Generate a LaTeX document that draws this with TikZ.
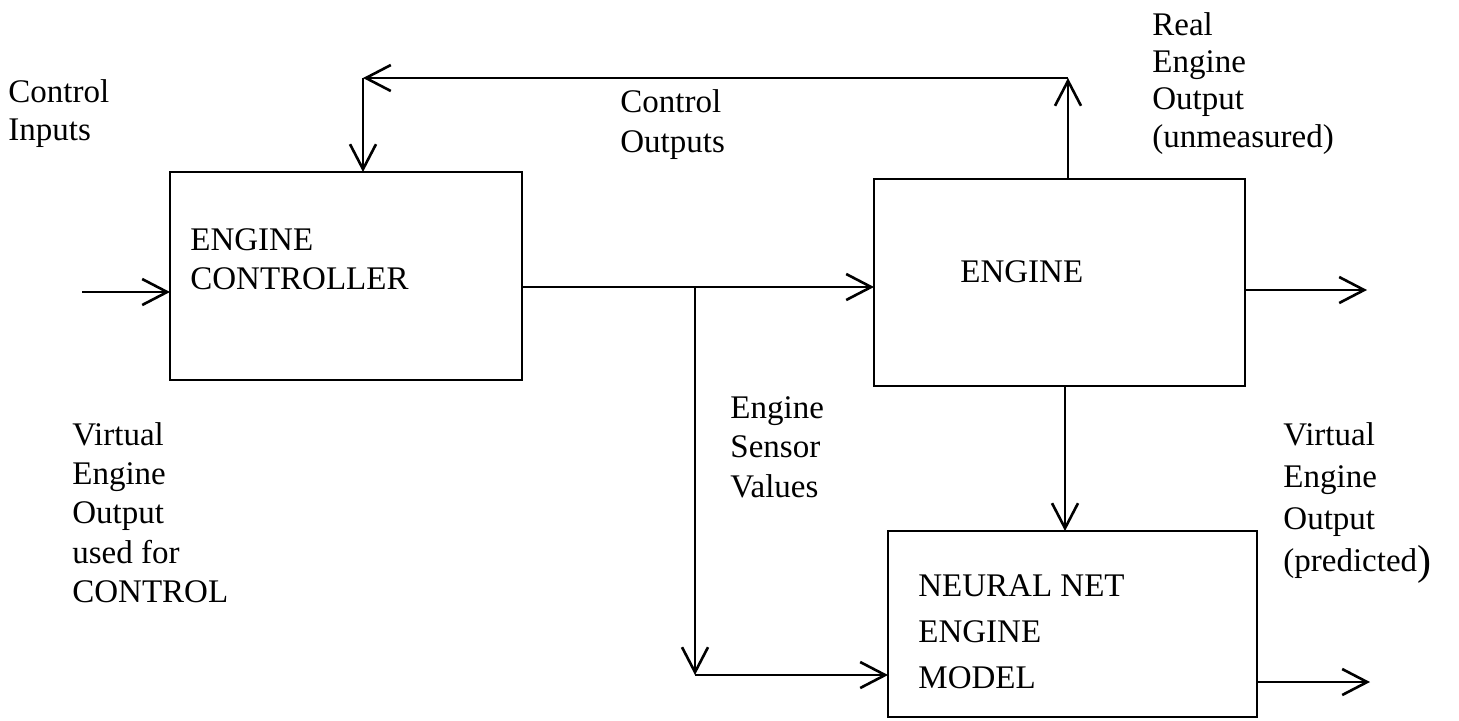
\documentclass[tikz,border=0pt]{standalone}
\usepackage{fontspec}
\setmainfont{Liberation Serif}
\usetikzlibrary{arrows.meta}

% stacked, left-aligned label lines; the node's base is the first line's baseline
\newcommand\lbl[2][19.5pt]{\vtop{\baselineskip=#1\lineskiplimit=-20pt\let\\\cr\halign{##\hfil\cr#2\crcr}}}

\tikzset{
  blockbox/.style={draw, line width=1.4pt, outer sep=0pt, inner sep=0pt},
  arr/.style={line width=1.4pt, -{Straight Barb[length=12.5pt, width=13pt, line width=1.3pt]}},
  txt/.style={anchor=base west, inner sep=0pt, font=\fontsize{16.5}{19.5}\selectfont},
}

\begin{document}
\begin{tikzpicture}[x=0.5pt, y=-0.5pt]
  \useasboundingbox (0,0) rectangle (1459,720);

  % blocks
  \node[blockbox, minimum width=176pt, minimum height=104pt] (ctl) at (346,276) {};
  \node[blockbox, minimum width=185.5pt, minimum height=103.5pt] (eng) at (1059.5,282.5) {};
  \node[blockbox, minimum width=184.5pt, minimum height=93pt] (nn) at (1072.5,624) {};

  % block captions
  \node[txt] (ctltxt) at (190,250) {\lbl{ENGINE\\CONTROLLER}};
  \node[txt] (engtxt) at (960,282) {ENGINE};
  \node[txt] (nntxt) at (918,596) {\lbl[23pt]{NEURAL NET\\ENGINE\\MODEL}};

  % routing points
  \coordinate (fbR) at (1068,78);
  \coordinate (fbL) at (363,78);
  \coordinate (inp) at (82,292);
  \coordinate (split) at (695,287);
  \coordinate (sb) at (695,675);
  \coordinate (dn) at (1065,450);
  \coordinate (engOut) at (1367,290);
  \coordinate (nnOut) at (1370,682);

  % feedback of the engine output to the controller
  \draw[arr] (eng.north -| fbR) -- (fbR);
  \draw[arr] (fbR) -- (fbL);
  \draw[arr] (fbL) -- (ctl.north -| fbL);

  % control inputs
  \draw[arr] (inp) -- (ctl.west |- inp);

  % control outputs to the engine, with the sensor branch
  \draw[arr] (ctl.east |- split) -- (eng.west |- split);
  \draw[arr] (split) -- (sb);
  \draw[arr] (sb) -- (nn.west |- sb);

  % engine to neural net model
  \draw[arr] (eng.south -| dn) -- (nn.north -| dn);

  % outputs
  \draw[arr] (eng.east |- engOut) -- (engOut);
  \draw[arr] (nn.east |- nnOut) -- (nnOut);

  % labels
  \node[txt] (lblIn) at (8,102) {\lbl[19pt]{Control\\Inputs}};
  \node[txt] (lblCO) at (620,112) {\lbl[20pt]{Control\\Outputs}};
  \node[txt] (lblReal) at (1152,35) {\lbl[18.7pt]{Real\\Engine\\Output\\(unmeasured)}};
  \node[txt] (lblSens) at (730,418) {\lbl[19.8pt]{Engine\\Sensor\\Values}};
  \node[txt] (lblVC) at (72,445) {\lbl[19.7pt]{Virtual\\Engine\\Output\\used for\\CONTROL}};
  \node[txt] (lblVP) at (1283,445) {\lbl[21pt]{Virtual\\Engine\\Output\\(predicted{\fontsize{21}{21}\selectfont\raisebox{-1.5pt}{)}}}};
\end{tikzpicture}
\end{document}
